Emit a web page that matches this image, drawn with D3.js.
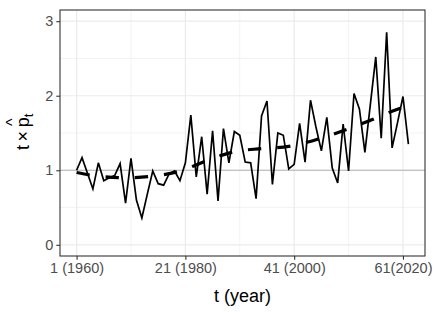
<!DOCTYPE html>
<html>
<head>
<meta charset="utf-8">
<script src="https://cdn.jsdelivr.net/npm/d3@7"></script>
<style>
  body { margin: 0; background: #fff; }
  svg { display: block; font-family: "Liberation Sans", Arial, sans-serif; }
</style>
</head>
<body>
<script>
// valeurs observees t x p_t, pour t = 1 .. 62
const valeurs = [1.00, 1.17, 0.96, 0.75, 1.10, 0.86, 0.90, 0.93, 1.09, 0.56,
                 1.16, 0.60, 0.36, 0.68, 0.99, 0.82, 0.80, 0.95, 0.99, 0.86,
                 1.10, 1.74, 0.91, 1.45, 0.68, 1.53, 0.59, 1.56, 1.10, 1.52,
                 1.47, 1.11, 1.10, 0.62, 1.73, 1.93, 0.81, 1.50, 1.47, 1.02,
                 1.08, 1.63, 1.11, 1.94, 1.58, 1.26, 1.71, 1.03, 0.83, 1.62,
                 0.99, 2.03, 1.82, 1.24, 1.88, 2.52, 1.43, 2.85, 1.30, 1.64,
                 1.99, 1.35];

// tendance (trait pointille), lue a quelques t
const tendanceT = [1, 5, 10, 15, 20, 25, 30, 35, 40, 45, 50, 55, 60, 62];
const tendanceV = [0.97, 0.92, 0.90, 0.92, 0.99, 1.13, 1.25, 1.29, 1.32, 1.41, 1.53, 1.67, 1.82, 1.87];

const ticksX = [1, 21, 41, 61];
const labelsX = ["1 (1960)", "21 (1980)", "41 (2000)", "61(2020)"];
const minorX = [11, 31, 51];
const ticksY = [0, 1, 2, 3];
const minorY = [0.5, 1.5, 2.5];
const reference = 1;

const largeur = 436, hauteur = 312;
const marges = { top: 10, right: 11, bottom: 56, left: 60 };

const svg = d3.select("body").append("svg")
    .attr("width", largeur)
    .attr("height", hauteur);

const echelleX = d3.scaleLinear()
    .domain([-2.05, 65.05])
    .range([marges.left, largeur - marges.right]);

const echelleY = d3.scaleLinear()
    .domain([-0.15, 3.15])
    .range([hauteur - marges.bottom, marges.top]);

const x0 = marges.left, x1 = largeur - marges.right;
const y0 = hauteur - marges.bottom, y1 = marges.top;

// grille
const grille = svg.append("g");
grille.selectAll(".minY").data(minorY).enter().append("line")
    .attr("x1", x0).attr("x2", x1)
    .attr("y1", d => echelleY(d)).attr("y2", d => echelleY(d))
    .attr("stroke", "#ebebeb").attr("stroke-width", 0.6);
grille.selectAll(".minX").data(minorX).enter().append("line")
    .attr("y1", y0).attr("y2", y1)
    .attr("x1", d => echelleX(d)).attr("x2", d => echelleX(d))
    .attr("stroke", "#ebebeb").attr("stroke-width", 0.6);
grille.selectAll(".majY").data(ticksY).enter().append("line")
    .attr("x1", x0).attr("x2", x1)
    .attr("y1", d => echelleY(d)).attr("y2", d => echelleY(d))
    .attr("stroke", "#ebebeb").attr("stroke-width", 1.2);
grille.selectAll(".majX").data(ticksX).enter().append("line")
    .attr("y1", y0).attr("y2", y1)
    .attr("x1", d => echelleX(d)).attr("x2", d => echelleX(d))
    .attr("stroke", "#ebebeb").attr("stroke-width", 1.2);

// ligne de reference a 1
svg.append("line")
    .attr("x1", x0).attr("x2", x1)
    .attr("y1", echelleY(reference)).attr("y2", echelleY(reference))
    .attr("stroke", "#b3b3b3").attr("stroke-width", 1.2);

const clip = svg.append("clipPath").attr("id", "panneau")
    .append("rect").attr("x", x0).attr("y", y1)
    .attr("width", x1 - x0).attr("height", y0 - y1);

// serie
const ligne = d3.line()
    .x((d, i) => echelleX(i + 1))
    .y(d => echelleY(d));

svg.append("path")
    .datum(valeurs)
    .attr("d", ligne)
    .attr("fill", "none")
    .attr("stroke", "#000")
    .attr("stroke-width", 1.7)
    .attr("stroke-linejoin", "miter");

// tendance
const ligneTendance = d3.line()
    .curve(d3.curveMonotoneX)
    .x(d => echelleX(d[0]))
    .y(d => echelleY(d[1]));

svg.append("path")
    .datum(d3.zip(tendanceT, tendanceV))
    .attr("d", ligneTendance)
    .attr("fill", "none")
    .attr("stroke", "#000")
    .attr("stroke-width", 3.2)
    .attr("stroke-dasharray", "13.3,16");

// cadre
svg.append("rect")
    .attr("x", x0).attr("y", y1)
    .attr("width", x1 - x0).attr("height", y0 - y1)
    .attr("fill", "none").attr("stroke", "#333").attr("stroke-width", 1.1);

// axes
const axeX = d3.axisBottom(echelleX)
    .tickValues(ticksX)
    .tickFormat((d, i) => labelsX[i])
    .tickSize(3.7)
    .tickPadding(3);

const gX = svg.append("g")
    .attr("transform", "translate(0," + y0 + ")")
    .call(axeX);
gX.select(".domain").remove();
gX.selectAll("line").attr("stroke", "#333").attr("stroke-width", 1.1);
gX.selectAll("text").attr("fill", "#4d4d4d").attr("font-size", 14.5)
    .attr("font-family", "Liberation Sans, Arial, sans-serif");

const axeY = d3.axisLeft(echelleY)
    .tickValues(ticksY)
    .tickFormat(d3.format("d"))
    .tickSize(3.7)
    .tickPadding(3);

const gY = svg.append("g")
    .attr("transform", "translate(" + x0 + ",0)")
    .call(axeY);
gY.select(".domain").remove();
gY.selectAll("line").attr("stroke", "#333").attr("stroke-width", 1.1);
gY.selectAll("text").attr("fill", "#4d4d4d").attr("font-size", 14.5)
    .attr("font-family", "Liberation Sans, Arial, sans-serif");

// titres
svg.append("text")
    .attr("x", (x0 + x1) / 2)
    .attr("y", 302)
    .attr("text-anchor", "middle")
    .attr("font-size", 18)
    .attr("fill", "#000")
    .text("t (year)");

const titreY = svg.append("g")
    .attr("transform", "translate(29," + ((y0 + y1) / 2) + ") rotate(-90)");

const texteY = titreY.append("text")
    .attr("x", -17)
    .attr("y", 0)
    .attr("font-size", 18)
    .attr("fill", "#000");
texteY.append("tspan").text("t\u2009\u00d7\u2009p");
texteY.append("tspan")
    .attr("font-size", 13)
    .attr("dy", 4)
    .text("t");

// chapeau au-dessus du p
const noeud = texteY.node();
const debutP = noeud.getStartPositionOfChar(4).x;
const finP = noeud.getEndPositionOfChar(4).x;
titreY.append("text")
    .attr("x", (debutP + finP) / 2)
    .attr("y", -11)
    .attr("text-anchor", "middle")
    .attr("font-size", 16)
    .attr("fill", "#000")
    .text("^");
</script>
</body>
</html>
